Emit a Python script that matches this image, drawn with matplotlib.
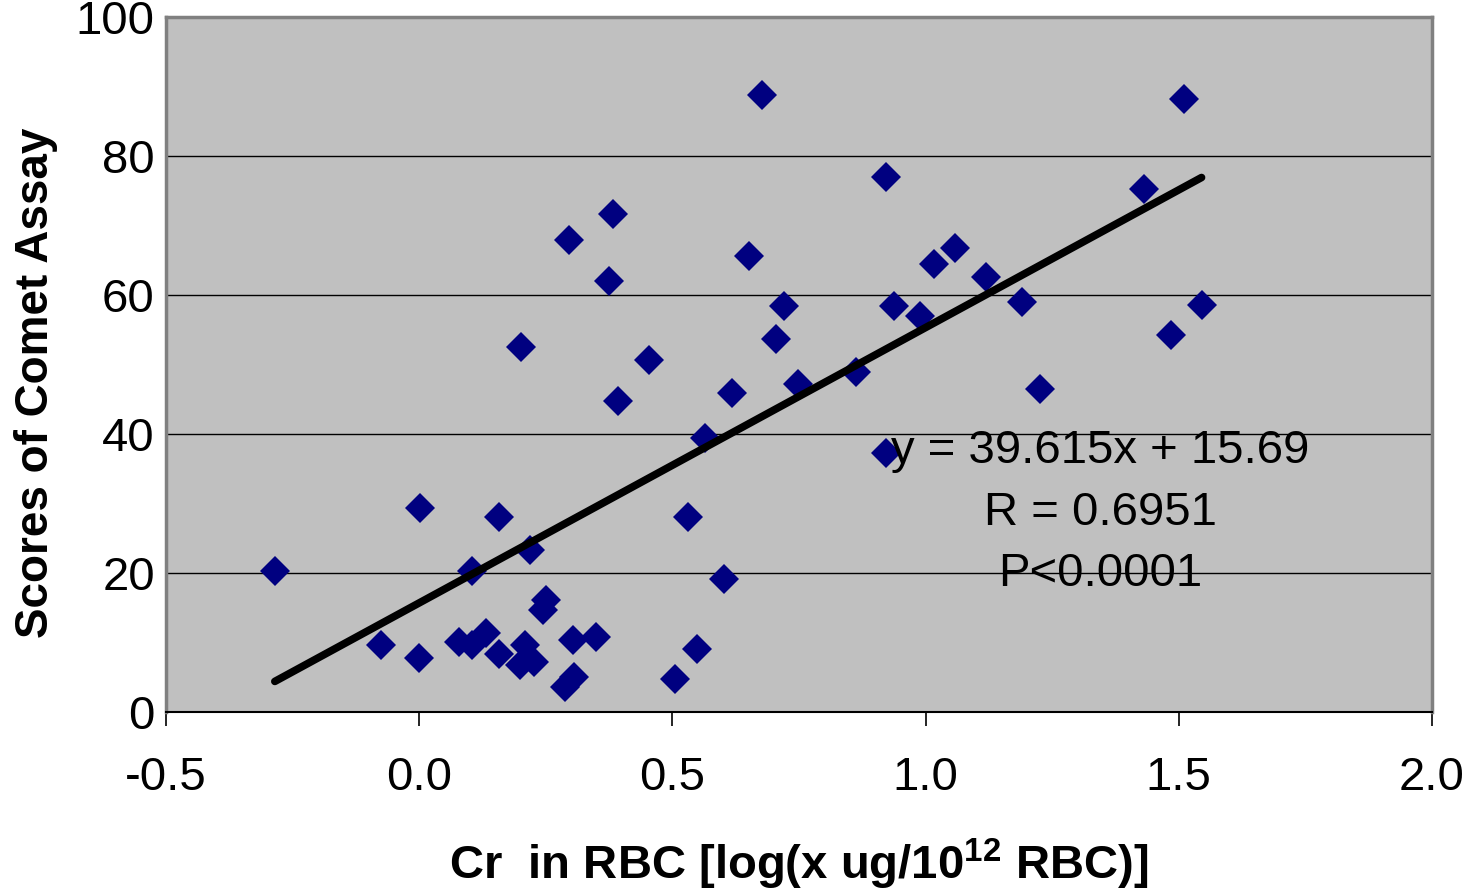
import matplotlib
matplotlib.use("Agg")
import matplotlib.pyplot as plt
import numpy as np

# Cr in RBC (log) vs comet assay score
cr_log = [-0.285, -0.076, 0.001, 0.000, 0.079, 0.105, 0.105, 0.132, 0.157, 0.158,
          0.200, 0.201, 0.210, 0.219, 0.227, 0.244, 0.250, 0.288, 0.296, 0.304,
          0.306, 0.349, 0.374, 0.383, 0.392, 0.453, 0.506, 0.530, 0.549, 0.564,
          0.601, 0.618, 0.652, 0.678, 0.705, 0.721, 0.748, 0.862, 0.921, 0.921,
          0.937, 0.990, 1.016, 1.059, 1.120, 1.190, 1.225, 1.431, 1.484, 1.510,
          1.545]
comet_score = [20.3, 9.6, 29.3, 7.8, 10.1, 20.3, 9.6, 11.3, 28.0, 8.4,
               6.8, 52.5, 9.6, 23.3, 7.2, 14.7, 16.1, 3.6, 67.9, 10.3,
               5.0, 10.8, 62.0, 71.6, 44.7, 50.7, 4.7, 28.1, 9.1, 39.4,
               19.1, 45.9, 65.6, 88.8, 53.7, 58.4, 47.2, 48.9, 76.9, 37.2,
               58.4, 56.9, 64.4, 66.8, 62.6, 59.0, 46.5, 75.2, 54.2, 88.2,
               58.5]

SLOPE = 39.615
INTERCEPT = 15.69
fit_text = ["y = 39.615x + 15.69", "R = 0.6951", "P<0.0001"]

x_ticks = [-0.5, 0.0, 0.5, 1.0, 1.5, 2.0]
y_ticks = [0, 20, 40, 60, 80, 100]

plt.rcParams['font.family'] = ['Liberation Sans', 'DejaVu Sans']

fig = plt.figure(figsize=(14.79, 8.90), dpi=100)
ax = fig.add_axes([0.1122, 0.2, 0.856, 0.781])
ax.set_facecolor('#C0C0C0')

for yv in y_ticks[1:-1]:
    ax.axhline(yv, color='black', lw=1.0, zorder=1)

xs = np.array(cr_log)
fit_x = np.array([xs.min(), xs.max()])
ax.plot(fit_x, SLOPE * fit_x + INTERCEPT, color='black', lw=5.5,
        solid_capstyle='round', zorder=3)

ax.plot(cr_log, comet_score, linestyle='none', marker='D', markersize=15,
        color='#000080', markeredgewidth=0, zorder=2)

ax.set_xlim(-0.5, 2.0)
ax.set_ylim(0, 100)
ax.set_xticks(x_ticks)
ax.set_xticklabels([f"{v:.1f}" for v in x_ticks])
ax.set_yticks(y_ticks)
ax.tick_params(axis='x', direction='out', length=10, width=1.2, color='black',
               labelsize=34, pad=22)
ax.tick_params(axis='y', length=0, labelsize=34, pad=8)

for side in ('left', 'top', 'right'):
    ax.spines[side].set_color('#808080')
    ax.spines[side].set_linewidth(2.5)
ax.spines['bottom'].set_color('black')
ax.spines['bottom'].set_linewidth(1.5)

for k, line in enumerate(fit_text):
    ax.text(1.345, 37.6 - k * 8.9, line, fontsize=34, ha='center', va='center',
            zorder=4)

ax.set_ylabel('Scores of Comet Assay', fontsize=33, fontweight='bold')
ax.yaxis.set_label_coords(-0.085, 0.473)
ax.set_xlabel(r'Cr  in RBC [log(x ug/10$^{\mathregular{12}}$ RBC)]', fontsize=34,
              fontweight='bold', labelpad=26)

fig.savefig('out.png', dpi=100)
